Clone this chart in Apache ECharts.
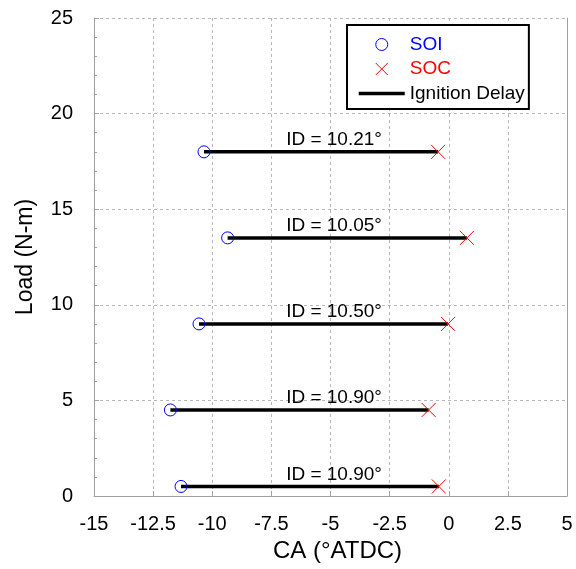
<!DOCTYPE html>
<html>
<head>
<meta charset="utf-8">
<script src="https://cdn.jsdelivr.net/npm/echarts@6/dist/echarts.min.js"></script>
<style>
html,body{margin:0;padding:0;background:#fff;}
#chart{width:576px;height:569px;}
</style>
</head>
<body>
<div id="chart"></div>
<script>
// ---- data ----
var loads = [0.5, 4.5, 9, 13.5, 18];            // Load (N-m)
var soi   = [-11.32, -11.77, -10.56, -9.35, -10.35]; // start of injection, CA (°ATDC)
var soc   = [-0.42, -0.85, -0.03, 0.77, -0.45];      // start of combustion, CA (°ATDC)
var idText = ['10.90', '10.90', '10.50', '10.05', '10.21']; // ignition delay labels
var labelX = -4.85;                               // x position of the ID labels
var xTicks = [-15, 5, 2.5];                      // min, max, interval
var yTicks = [0, 25, 5];

var FONT = "'Liberation Sans', Arial, Helvetica, sans-serif";
var GRAY = '#a0a0a0';

var series = [];
for (var i = 0; i < loads.length; i++) {
  series.push({
    name: 'Ignition Delay',
    type: 'line',
    data: [[soi[i], loads[i]], [soc[i], loads[i]]],
    symbol: 'none',
    lineStyle: {color: '#000', width: 3.5},
    itemStyle: {color: '#000'},
    z: 2,
    silent: true,
    animation: false
  });
}
series.push({
  name: 'SOI',
  type: 'scatter',
  data: loads.map(function (l, i) { return [soi[i], l]; }),
  symbol: 'circle',
  symbolSize: 12,
  itemStyle: {color: 'rgba(0,0,0,0)', borderColor: '#0000ff', borderWidth: 1, opacity: 1},
  z: 3,
  animation: false
});
series.push({
  name: 'SOC',
  type: 'scatter',
  data: loads.map(function (l, i) { return [soc[i], l]; }),
  symbol: 'path://M0,0L10,10M10,0L0,10',
  symbolSize: 14,
  itemStyle: {color: 'none', borderColor: '#ff0000', borderWidth: 1, opacity: 1},
  z: 3,
  animation: false
});
series.push({
  name: 'ID labels',
  type: 'scatter',
  data: loads.map(function (l, i) { return [labelX, l, idText[i]]; }),
  symbolSize: 0,
  itemStyle: {color: '#000', opacity: 1},
  label: {
    show: true,
    position: 'inside',
    offset: [0, -12],
    formatter: function (p) { return 'ID = ' + p.data[2] + '°'; },
    fontFamily: FONT,
    fontSize: 19,
    color: '#000',
    opacity: 1,
    textBorderWidth: 0
  },
  z: 4,
  silent: true,
  animation: false
});

var option = {
  animation: false,
  backgroundColor: '#fff',
  grid: {left: 94, right: 9, top: 18, bottom: 73, containLabel: false},
  legend: {
    orient: 'vertical',
    left: 347,
    top: 25,
    padding: [10, 4, 6, 10],
    itemGap: 5.5,
    itemWidth: 46,
    itemHeight: 12,
    itemTextGap: 5,
    borderColor: '#000',
    borderWidth: 2,
    backgroundColor: '#fff',
    textStyle: {fontFamily: FONT, fontSize: 19, color: '#000'},
    data: [
      {name: 'SOI', textStyle: {color: '#0000ff'},
       itemStyle: {color: 'rgba(0,0,0,0)', borderColor: '#0000ff', borderWidth: 1}},
      {name: 'SOC', textStyle: {color: '#ff0000'},
       itemStyle: {color: 'none', borderColor: '#ff0000', borderWidth: 1}},
      {name: 'Ignition Delay', textStyle: {color: '#000'}, itemStyle: {opacity: 0},
       lineStyle: {color: '#000', width: 3.5}}
    ],
    selectedMode: false
  },
  xAxis: {
    type: 'value',
    min: xTicks[0], max: xTicks[1], interval: xTicks[2],
    name: 'CA (°ATDC)',
    nameLocation: 'middle',
    nameGap: 43,
    nameTextStyle: {fontFamily: FONT, fontSize: 24, color: '#000', padding: [0, 0, 0, 14]},
    axisLine: {show: true, onZero: false, lineStyle: {color: GRAY, width: 1}},
    axisTick: {show: true, inside: true, length: 5, lineStyle: {color: GRAY}},
    axisLabel: {fontFamily: FONT, fontSize: 20, color: '#000', margin: 18},
    splitLine: {show: true, lineStyle: {color: '#b8b8b8', type: [3, 3], width: 1}}
  },
  yAxis: [{
    type: 'value',
    min: yTicks[0], max: yTicks[1], interval: yTicks[2],
    name: 'Load (N-m)',
    nameLocation: 'middle',
    nameGap: 57,
    nameTextStyle: {fontFamily: FONT, fontSize: 23, color: '#000'},
    axisLine: {show: true, onZero: false, lineStyle: {color: GRAY, width: 1}},
    axisTick: {show: true, inside: true, length: 5, lineStyle: {color: GRAY}},
    minorTick: {show: true, splitNumber: 5, length: 3, lineStyle: {color: GRAY}},
    axisLabel: {fontFamily: FONT, fontSize: 20, color: '#000', margin: 21},
    splitLine: {show: true, lineStyle: {color: '#b8b8b8', type: [3, 3], width: 1}}
  }, {
    type: 'value',
    position: 'right',
    min: yTicks[0], max: yTicks[1], interval: yTicks[2],
    axisLine: {show: true, onZero: false, lineStyle: {color: GRAY, width: 1}},
    axisTick: {show: false},
    axisLabel: {show: false},
    splitLine: {show: false}
  }],
  series: series
};

var chart = echarts.init(document.getElementById('chart'), null, {renderer: 'canvas'});
chart.setOption(option);
</script>
</body>
</html>
